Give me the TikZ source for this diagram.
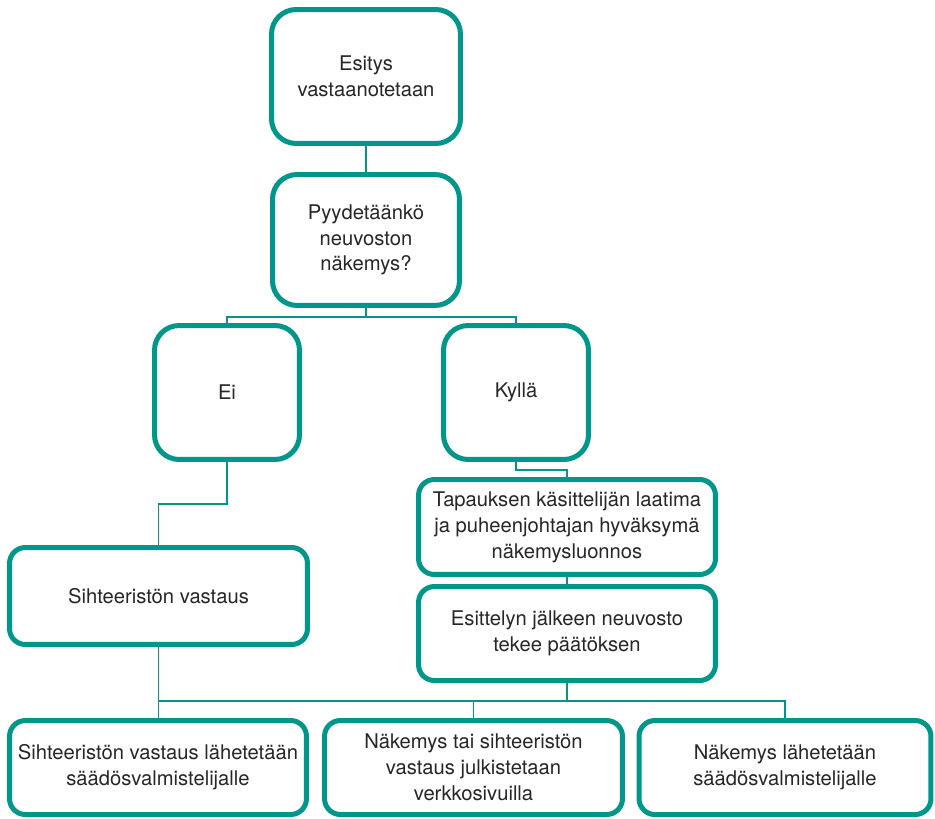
\documentclass[tikz,border=0pt]{standalone}
\usepackage{fontspec}
\setmainfont{TeX Gyre Heros}
\definecolor{vihrea}{RGB}{0,150,137}

\begin{document}
\begin{tikzpicture}[x=0.02cm, y=-0.02cm]
    % Kuvan rajat (pikseleinä)
    \useasboundingbox (0,0) rectangle (935,818);

    % Tyylit
    \tikzset{
        c_box/.style={draw=vihrea, line width=2.85pt, rounded corners=9pt, fill=white,
            align=center, inner sep=0pt, text=black!85,
            font=\fontsize{11.5}{14.7}\selectfont},
        c_big/.style={c_box, rounded corners=14pt},
        c_link/.style={draw=vihrea, line width=1.1pt}
    }

    % Haarautumiskohdat
    \coordinate (bus1) at (366,317);
    \coordinate (bus2) at (540,470);
    \coordinate (bus3) at (190,504);
    \coordinate (bus4) at (470,701);

    % Laatikot
    \node[c_big, minimum width=3.78cm, minimum height=2.68cm] (esitys) at (366,76.5) {Esitys\\vastaanotetaan};
    \node[c_big, minimum width=3.74cm, minimum height=2.62cm] (pyyd) at (366,240) {Pyydetäänkö\\neuvoston\\näkemys?};
    \node[c_big, minimum width=2.90cm, minimum height=2.68cm] (ei) at (227,392.5) {Ei};
    \node[c_big, minimum width=2.90cm, minimum height=2.68cm] (kylla) at (516,392.5) {Kyllä};
    \node[c_box, minimum width=5.94cm, minimum height=1.90cm] (tapaus) at (567,527) {Tapauksen käsittelijän laatima\\ja puheenjohtajan hyväksymä\\näkemysluonnos};
    \node[c_box, minimum width=5.94cm, minimum height=1.88cm] (esitt) at (567,633.5) {Esittelyn jälkeen neuvosto\\tekee päätöksen};
    \node[c_box, minimum width=5.96cm, minimum height=1.94cm] (siht) at (158.5,596) {Sihteeristön vastaus};
    \node[c_box, minimum width=5.94cm, minimum height=1.88cm] (botA) at (158,767.5) {Sihteeristön vastaus lähetetään\\säädösvalmistelijalle};
    \node[c_box, minimum width=5.96cm, minimum height=1.88cm] (botB) at (473.5,767.5) {Näkemys tai sihteeristön\\vastaus julkistetaan\\verkkosivuilla};
    \node[c_box, minimum width=5.84cm, minimum height=1.88cm] (botC) at (785,767.5) {Näkemys lähetetään\\säädösvalmistelijalle};

    % Yhteydet
    \draw[c_link] (esitys.south) -- (pyyd.north);
    \draw[c_link] (pyyd.south) -- (pyyd.south |- bus1);
    \draw[c_link] (ei.north) |- (bus1) -| (kylla.north);
    \draw[c_link] (kylla.south) |- (bus2) -| (tapaus.north);
    \draw[c_link] (tapaus.south) -- (esitt.north);
    \draw[c_link] (ei.south) |- (bus3) -| (siht.north);
    \draw[c_link] (siht.south) -- (siht.south |- botA.north);
    \draw[c_link] (siht.south |- bus4) -| (botC.north);
    \draw[c_link] (esitt.south) -- (esitt.south |- bus4);
    \draw[c_link] (botB.north) -- (botB.north |- bus4);
\end{tikzpicture}
\end{document}
